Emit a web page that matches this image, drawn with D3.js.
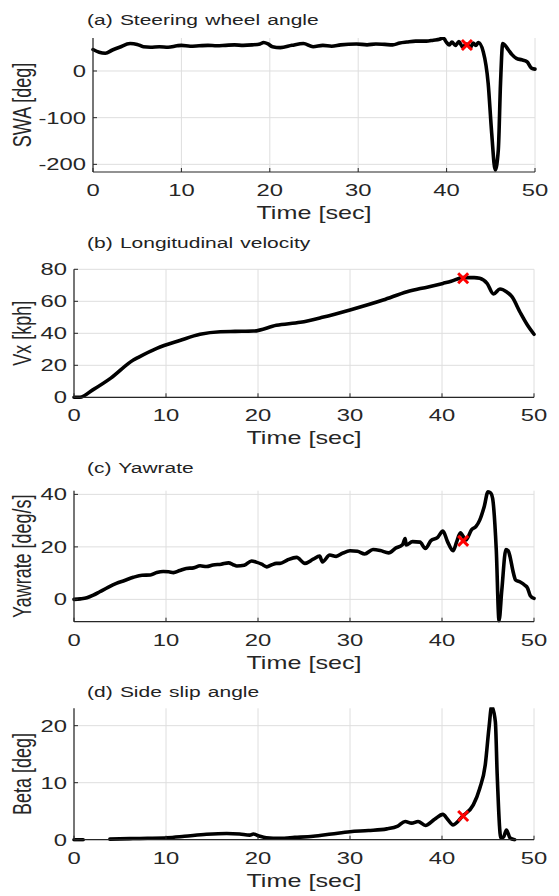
<!DOCTYPE html>
<html>
<head>
<meta charset="utf-8">
<style>
  body { margin: 0; background: #fff; }
  svg { display: block; }
</style>
</head>
<body>
<svg width="559" height="896"></svg>
<script src="https://d3js.org/d3.v7.min.js"></script>
<script>
// ---- data ----
var timeTicks = [0, 10, 20, 30, 40, 50];
var markTime = 42.3;

var swaTime = [0, 0.7, 1.4, 2.2, 3.0, 4.2, 5.0, 5.7, 6.5, 7.5, 8.5, 9.5, 10.0, 11, 12, 13, 14, 15, 16, 17, 18, 18.9, 19.3, 19.8, 20.3, 21.2, 22.5, 23.8, 24.9, 26, 27, 28, 29.8, 31, 32, 33, 33.9, 34.7, 35.5, 36.5, 37.7, 38.5, 39.2, 39.6, 40.0, 40.3, 40.6, 41.0, 41.4, 41.8, 42.3, 42.7, 43.0, 43.3, 43.6, 44.15, 44.7, 45.1, 45.5, 45.85, 46.1, 46.35, 46.6, 47.0, 47.4, 47.9, 48.5, 49.1, 49.6, 50];
var swaValue = [46, 40, 38, 45, 51, 59, 57, 52, 51, 52, 51, 54, 55, 53, 54, 55, 54, 55, 56, 55, 56, 58, 61, 58, 52, 50, 55, 59, 52, 55, 53, 56, 58, 56, 58, 57, 56, 60, 62, 64, 64, 66, 68, 71, 61, 56, 62, 55, 63, 52, 58, 50, 60, 55, 61, 41, -26, -133, -212, -169, -26, 59, 55, 45, 35, 27, 24, 20, 6, 4];
var swaTicks = [-200, -100, 0];

var vxTime = [0, 0.65, 2, 4, 6.45, 7, 9, 11.5, 13.7, 15.9, 17.5, 19.5, 22, 24.6, 27, 30, 33.6, 36.2, 38.5, 40.1, 41, 42.3, 43.5, 44.1, 44.9, 45.6, 46.3, 47, 47.6, 48.5, 49.3, 50];
var vxValue = [0, 0, 4.5, 12, 23.3, 25, 30.6, 35.5, 39.4, 41, 41.2, 41.4, 45, 46.9, 50, 54.6, 60.8, 66, 69, 71.2, 72.5, 74.8, 74.8, 74.4, 71.2, 64.6, 67.7, 66, 62.9, 53, 45, 39.4];
var vxTicks = [0, 20, 40, 60, 80];

var yawTime = [0, 0.7, 1.4, 2.1, 2.8, 3.7, 4.6, 5.5, 6.45, 7.4, 8.3, 9.0, 9.7, 10.3, 10.8, 11.5, 12.2, 13, 13.7, 14.4, 15.1, 16, 16.8, 17.3, 17.7, 18.5, 19.3, 19.8, 20.4, 20.95, 21.5, 22, 22.4, 23.2, 24.2, 25.1, 26, 26.7, 27.0, 27.8, 28.5, 29.2, 30, 30.8, 31.6, 32.5, 33.3, 34.2, 35, 35.7, 36, 36.1, 36.8, 37.6, 38.2, 38.8, 39.5, 40.1, 40.6, 41.2, 41.6, 42, 42.6, 43.2, 43.7, 44.1, 44.6, 45.0, 45.3, 45.5, 45.9, 46.2, 46.5, 46.95, 47.2, 47.4, 47.7, 48.0, 48.5, 49.0, 49.3, 49.6, 50];
var yawValue = [0, 0.2, 0.6, 1.6, 2.9, 4.6, 6.1, 7.2, 8.4, 9.2, 9.3, 10.2, 10.6, 10.5, 10.2, 11.0, 11.8, 12.0, 12.8, 12.5, 13.1, 13.4, 13.9, 13.2, 12.7, 13.0, 14.6, 14.2, 13.4, 12.4, 13.2, 13.7, 13.7, 15.0, 16.0, 13.7, 15.3, 16.5, 14.3, 16.9, 16.4, 17.6, 18.5, 18.3, 17.3, 19.0, 18.6, 17.7, 19.6, 20.8, 23.2, 20.7, 22.0, 21.8, 19.4, 22.4, 23.5, 26.0, 22.0, 18.5, 22.0, 25.4, 22.6, 26.5, 27.8, 30.2, 35.5, 41.0, 40.5, 38.5, 18.8, -8.1, 3.5, 19.0, 18.5, 16.2, 11, 7.4, 6.6, 5.4, 4.3, 1.4, 0.4];
var yawTicks = [0, 20, 40];

var betaTime = [0, 1, 2, 3.9, 6.4, 8, 10.1, 12, 14.4, 16.6, 18, 19.1, 19.5, 20.2, 20.9, 22.4, 24, 26, 28, 30, 32, 34, 35.2, 36, 36.7, 37.4, 38.2, 39.2, 40.1, 40.6, 41.2, 42.25, 43.4, 44.1, 44.7, 45.1, 45.4, 45.8, 46.0, 46.4, 46.7, 47.0, 47.4, 47.9];
var betaValue = [0, 0, null, 0.1, 0.2, 0.25, 0.35, 0.6, 0.95, 1.1, 1.0, 0.8, 1.0, 0.6, 0.35, 0.25, 0.4, 0.6, 1.0, 1.4, 1.6, 1.9, 2.4, 3.2, 2.9, 3.2, 2.5, 3.6, 4.45, 3.6, 2.6, 4.16, 6.1, 9.0, 13.1, 19.5, 23.4, 20.7, 11.4, 0.3, 0.5, 1.7, 0.3, 0];
var betaTicks = [0, 10, 20];

var markValues = [55.7, 74.4, 22.3, 4.16];

// ---- layout ----
var svg = d3.select("svg");
var SX = 1.4;   // the figure is stretched horizontally

var panels = [
  {title: "(a)  Steering wheel angle", ylabel: "SWA [deg]", t: swaTime, v: swaValue, ticks: swaTicks,
   left: 93, right: 535, top: 38, bottom: 172, ydom: [-216.4, 70.7], titleY: 25},
  {title: "(b)  Longitudinal  velocity", ylabel: "Vx [kph]", t: vxTime, v: vxValue, ticks: vxTicks,
   left: 74, right: 534, top: 269.3, bottom: 397.3, ydom: [0, 80], titleY: 248},
  {title: "(c)  Yawrate", ylabel: "Yawrate [deg/s]", t: yawTime, v: yawValue, ticks: yawTicks,
   left: 74, right: 534, top: 490.7, bottom: 621.7, ydom: [-8.5, 41.4], titleY: 473},
  {title: "(d)  Side  slip  angle", ylabel: "Beta [deg]", t: betaTime, v: betaValue, ticks: betaTicks,
   left: 74, right: 534, top: 708.3, bottom: 839.7, ydom: [0, 23.05], titleY: 697}
];

function label(g, x, y, txt, size, anchor, color) {
  return g.append("text")
    .attr("transform", "translate(" + x + "," + y + ") scale(" + SX + ",1)")
    .attr("text-anchor", anchor)
    .attr("font-family", "'Liberation Sans', Arial, sans-serif")
    .attr("font-size", size)
    .attr("fill", color || "#262626")
    .text(txt);
}

panels.forEach(function(p, i) {
  var g = svg.append("g");
  var x = d3.scaleLinear().domain([0, 50]).range([p.left, p.right]);
  var y = d3.scaleLinear().domain(p.ydom).range([p.bottom, p.top]);

  // grid
  g.selectAll(".gx").data(timeTicks).enter().append("line")
    .attr("x1", d => x(d)).attr("x2", d => x(d))
    .attr("y1", p.top).attr("y2", p.bottom)
    .attr("stroke", "#dedede").attr("stroke-width", 1);
  g.selectAll(".gy").data(p.ticks).enter().append("line")
    .attr("x1", p.left).attr("x2", p.right)
    .attr("y1", d => y(d)).attr("y2", d => y(d))
    .attr("stroke", "#dedede").attr("stroke-width", 1);

  // data line
  var clipId = "clip" + i;
  svg.append("clipPath").attr("id", clipId).append("rect")
    .attr("x", p.left - 2).attr("y", p.top - 1)
    .attr("width", p.right - p.left + 4).attr("height", p.bottom - p.top + 3);
  var pts = p.t.map(function(t, k) { return [t, p.v[k]]; });
  var line = d3.line()
    .defined(d => d[1] !== null)
    .x(d => x(d[0])).y(d => y(d[1]))
    .curve(d3.curveMonotoneX);
  g.append("path").datum(pts)
    .attr("clip-path", "url(#" + clipId + ")")
    .attr("d", line)
    .attr("fill", "none").attr("stroke", "#000")
    .attr("stroke-width", 3.6)
    .attr("stroke-linejoin", "round").attr("stroke-linecap", "round");

  // axes (left + bottom only)
  g.append("line").attr("x1", p.left).attr("x2", p.left)
    .attr("y1", p.top).attr("y2", p.bottom)
    .attr("stroke", "#262626").attr("stroke-width", 1.2);
  g.append("line").attr("x1", p.left).attr("x2", p.right)
    .attr("y1", p.bottom).attr("y2", p.bottom)
    .attr("stroke", "#262626").attr("stroke-width", 1.2);
  g.selectAll(".tx").data(timeTicks).enter().append("line")
    .attr("x1", d => x(d)).attr("x2", d => x(d))
    .attr("y1", p.bottom).attr("y2", p.bottom - 4)
    .attr("stroke", "#262626");
  g.selectAll(".ty").data(p.ticks).enter().append("line")
    .attr("x1", p.left).attr("x2", p.left + 4)
    .attr("y1", d => y(d)).attr("y2", d => y(d))
    .attr("stroke", "#262626");

  // tick labels
  timeTicks.forEach(function(d) {
    label(g, x(d), p.bottom + 24, d, 17, "middle");
  });
  p.ticks.forEach(function(d) {
    label(g, p.left - 7, y(d) + 6, d, 17, "end");
  });

  // axis titles
  label(g, (p.left + p.right) / 2, p.bottom + 47, "Time [sec]", 18, "middle");
  g.append("text")
    .attr("transform", "translate(31," + ((p.top + p.bottom) / 2) + ") scale(" + SX + ",1) rotate(-90)")
    .attr("text-anchor", "middle")
    .attr("font-family", "'Liberation Sans', Arial, sans-serif")
    .attr("font-size", 18)
    .attr("fill", "#262626")
    .text(p.ylabel);

  // panel title
  label(g, 87, p.titleY, p.title, 15, "start", "#222")
    .attr("word-spacing", 1);

  // red marker
  var mx = x(markTime), my = y(markValues[i]), s = 5;
  g.append("path")
    .attr("d", "M" + (mx - s) + "," + (my - s) + "L" + (mx + s) + "," + (my + s) +
               "M" + (mx - s) + "," + (my + s) + "L" + (mx + s) + "," + (my - s))
    .attr("stroke", "#ff0000").attr("stroke-width", 3).attr("fill", "none");
});
</script>
</body>
</html>
